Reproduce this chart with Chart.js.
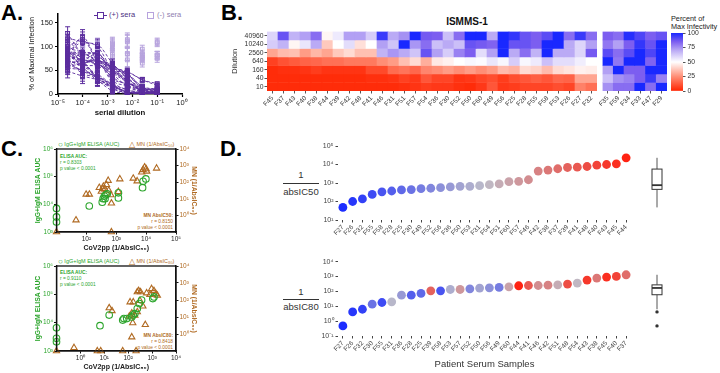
<!DOCTYPE html>
<html>
<head>
<meta charset="utf-8">
<script src="https://cdn.jsdelivr.net/npm/chart.js@4.4.1/dist/chart.umd.min.js"></script>
<style>
  body { margin: 0; width: 720px; height: 373px; position: relative; overflow: hidden; background: #fff;
         font-family: 'Liberation Sans', Arial, Helvetica, sans-serif; color: #222; }
  canvas { position: absolute; }
  .txt { position: absolute; white-space: nowrap; line-height: 1; }
  .letter { position: absolute; font-weight: bold; font-size: 22px; color: #000; line-height: 1; }
  .sym { display: inline-block; vertical-align: middle; position: relative; }
</style>
</head>
<body>

<!-- panel letters -->
<div class="letter" style="left:1px;top:2px">A.</div>
<div class="letter" style="left:221px;top:2px">B.</div>
<div class="letter" style="left:1px;top:138px">C.</div>
<div class="letter" style="left:220px;top:138px">D.</div>

<!-- A legend -->
<div class="txt" style="left:94px;top:11px;font-size:7.5px;color:#4b2f7f">
  <span class="sym" style="width:13px;height:8px">
    <span style="position:absolute;left:0;top:3.5px;width:13px;height:1.4px;background:#5b2d9e"></span>
    <span style="position:absolute;left:3px;top:0.5px;width:5px;height:5px;border:1.4px solid #5b2d9e;background:#fff"></span>
  </span> (+) sera
</div>
<div class="txt" style="left:147px;top:11px;font-size:7.5px;color:#8f80b0">
  <span class="sym" style="width:8px;height:8px">
    <span style="position:absolute;left:0;top:0.5px;width:5px;height:5px;border:1.4px solid #b7a3dd;background:#fff"></span>
  </span> (-) sera
</div>

<!-- B titles -->
<div class="txt" style="left:417px;top:17px;width:100px;text-align:center;font-size:10px;font-weight:bold;color:#111">ISMMS-1</div>
<div class="txt" style="left:671px;top:15px;font-size:7.3px;line-height:1.15;color:#222">Percent of<br>Max Infectivity</div>

<!-- C legends and stats -->
<div class="txt" style="left:58px;top:141px;font-size:5.5px;color:#2ca52c"><span style="font-size:8px;vertical-align:-1px">○</span> IgG+IgM ELISA (AUC)</div>
<div class="txt" style="left:129px;top:141px;font-size:5.5px;color:#b06a22"><span style="font-size:8px;vertical-align:-1px">△</span> MN (1/AbsIC₅₀)</div>
<div class="txt" style="left:60px;top:154px;font-size:4.8px;line-height:1.3;color:#2ca52c"><b>ELISA AUC:</b><br>r = 0.8303<br>p value &lt; 0.0001</div>
<div class="txt" style="left:132px;top:213px;width:41px;text-align:right;font-size:4.8px;line-height:1.3;color:#b06a22"><b>MN AbsIC50:</b><br>r = 0.8150<br>p value &lt; 0.0001</div>

<div class="txt" style="left:58px;top:258px;font-size:5.5px;color:#2ca52c"><span style="font-size:8px;vertical-align:-1px">○</span> IgG+IgM ELISA (AUC)</div>
<div class="txt" style="left:129px;top:258px;font-size:5.5px;color:#b06a22"><span style="font-size:8px;vertical-align:-1px">△</span> MN (1/AbsIC₈₀)</div>
<div class="txt" style="left:60px;top:270px;font-size:4.8px;line-height:1.3;color:#2ca52c"><b>ELISA AUC:</b><br>r = 0.9110<br>p value &lt; 0.0001</div>
<div class="txt" style="left:132px;top:333px;width:41px;text-align:right;font-size:4.8px;line-height:1.3;color:#b06a22"><b>MN AbsIC80:</b><br>r = 0.8418<br>p value &lt; 0.0001</div>

<!-- D fraction labels -->
<div class="txt" style="left:282px;top:170px;width:38px;text-align:center;font-size:9.5px;color:#333">1</div>
<div style="position:absolute;left:283px;top:183px;width:36px;height:1px;background:#333"></div>
<div class="txt" style="left:280px;top:187px;width:42px;text-align:center;font-size:9.5px;color:#333">absIC50</div>
<div class="txt" style="left:282px;top:287px;width:38px;text-align:center;font-size:9.5px;color:#333">1</div>
<div style="position:absolute;left:283px;top:299px;width:36px;height:1px;background:#333"></div>
<div class="txt" style="left:280px;top:302px;width:42px;text-align:center;font-size:9.5px;color:#333">absIC80</div>

<canvas id="chartA" width="162" height="111" style="left:28px;top:8px"></canvas>
<canvas id="heatPos" width="369" height="86" style="left:228px;top:27px"></canvas>
<canvas id="heatNeg" width="68" height="86" style="left:599px;top:27px"></canvas>
<canvas id="colorBar" width="40" height="70" style="left:668px;top:26px"></canvas>
<canvas id="c50" width="164" height="108" style="left:34px;top:146px"></canvas>
<canvas id="c80" width="164" height="110" style="left:34px;top:263px"></canvas>
<canvas id="d50" width="350" height="101" style="left:318px;top:141px"></canvas>
<canvas id="d80" width="350" height="117" style="left:318px;top:256px"></canvas>

<script>
// ===== DATA =====
// percent of maximal infectivity, one array per serum dilution (1:40960 ... 1:10)
const dilutions = [40960, 10240, 2560, 640, 160, 40, 10];
const posSamples = ['F45','F37','F43','F40','F38','F44','F39','F42','F48','F41','F46','F31','F51','F57','F54',
                    'F36','F30','F52','F50','F60','F49','F56','F25','F28','F55','F58','F53','F26','F27','F32'];
const negSamples = ['F35','F59','F34','F33','F47','F29'];

const pos40960 = [60, 88, 68, 72, 82, 48, 55, 72, 72, 62, 95, 70, 75, 105, 86, 85, 65, 82, 128, 112, 70, 118, 96, 88, 85, 90, 100, 82, 95, 82];
const pos10240 = [62, 68, 48, 56, 70, 38, 50, 58, 43, 50, 72, 64, 120, 74, 82, 65, 70, 65, 88, 86, 84, 110, 88, 88, 85, 108, 115, 70, 60, 72];
const pos2560  = [30, 35, 36, 28, 34, 30, 38, 42, 36, 36, 68, 74, 70, 64, 88, 72, 62, 78, 85, 58, 72, 100, 70, 82, 68, 104, 70, 70, 60, 86];
const pos640   = [7, 11, 13, 15, 16, 18, 18, 20, 20, 20, 25, 28, 36, 42, 32, 45, 47, 50, 52, 51, 56, 52, 62, 52, 55, 65, 58, 58, 54, 50];
const pos160   = [2, 3, 3, 4, 6, 4, 4, 4, 4, 9, 9, 17, 19, 16, 23, 25, 28, 25, 28, 25, 28, 35, 33, 42, 40, 35, 42, 44, 47, 46];
const pos40    = [2, 2, 2, 2, 2, 2, 2, 2, 2, 3, 3, 4, 7, 5, 12, 8, 8, 4, 5, 8, 10, 6, 10, 12, 14, 12, 16, 15, 30, 30];
const pos10    = [2, 2, 2, 2, 2, 2, 2, 2, 2, 2, 2, 2, 3, 4, 6, 5, 5, 3, 2, 5, 12, 5, 6, 8, 8, 8, 10, 8, 22, 18];

const neg40960 = [85, 82, 98, 92, 85, 88];
const neg10240 = [80, 72, 85, 96, 88, 104];
const neg2560  = [90, 82, 90, 106, 92, 108];
const neg640   = [104, 80, 102, 108, 84, 106];
const neg160   = [72, 115, 85, 85, 110, 112];
const neg40    = [65, 75, 78, 85, 95, 78];
const neg10    = [75, 82, 82, 110, 82, 108];

// error bar half-widths per dilution (panel A)
const posErr = [14, 16, 12, 10, 8, 5, 3];
const negErr = [10, 10, 10, 12, 14, 8, 8];
const aTicks = [0, 50, 100, 150];
const heatTicks = [0, 25, 50, 75, 100];

// panel C: CoV2pp 1/AbsIC50 vs ELISA AUC and MN 1/AbsIC50
const elisa50X = [10, 10, 10, 125, 340, 365, 400, 450, 500, 420, 1180, 1180, 7600, 7900, 9800];
const elisa50Y = [7100, 3500, 2300, 8700, 12000, 16000, 20000, 22000, 24000, 16000, 26000, 17000, 40000, 68000, 83000];
const mn50X = [10, 45, 98, 126, 270, 316, 355, 370, 417, 470, 537, 560, 660, 690, 690, 1175, 1320, 3700, 5000, 7100, 7900, 8900, 10000, 10500, 22400];
const mn50Y = [0.1, 0.52, 18.6, 18.6, 47, 28, 40, 56, 38, 71, 126, 32, 17, 5.4, 0.1, 27, 155, 170, 117, 400, 560, 800, 630, 450, 690];

// panel C: CoV2pp 1/AbsIC80
const elisa80X = [0.1, 0.1, 0.1, 6.6, 16, 59, 66, 87, 140, 163, 190, 240, 290, 363, 1070, 1200];
const elisa80Y = [6600, 2800, 2100, 7800, 18600, 12300, 14000, 14000, 16000, 18600, 21000, 31600, 47000, 63000, 71000, 81000];
const mn80X = [0.1, 0.54, 5.1, 7.1, 16, 21, 59, 214, 112, 141, 155, 141, 190, 240, 120, 163, 240, 275, 330, 310, 410, 590, 810, 950, 1200, 1450, 1660, 520];
const mn80Y = [0.1, 0.155, 0.1, 0.1, 34, 23, 0.1, 0.1, 11, 17, 4.5, 0.66, 12.6, 20, 76, 76, 295, 350, 295, 91, 43, 257, 204, 457, 350, 224, 186, 3.5];

// panel D
const ic50Samples = ['F27','F26','F32','F55','F58','F28','F25','F30','F49','F52','F56','F36','F50','F53','F31',
                     'F54','F51','F60','F57','F46','F42','F38','F37','F39','F41','F48','F40','F43','F45','F44'];
const ic50Values = [48, 100, 138, 240, 333, 370, 420, 440, 495, 520, 560, 610, 660, 660, 720,
                    810, 890, 1180, 1230, 1500, 4400, 5000, 5900, 6900, 7200, 7800, 9200, 10000, 10900, 23000];
const ic80Samples = ['F27','F26','F32','F30','F55','F31','F36','F28','F25','F39','F58','F53','F57','F52','F50',
                     'F56','F49','F60','F44','F41','F46','F42','F51','F48','F54','F43','F38','F45','F40','F37'];
const ic80Values = [0.48, 4.2, 6.3, 13.8, 18, 20, 56, 56, 73, 110, 110, 135, 135, 150, 167,
                    175, 185, 205, 240, 250, 250, 265, 280, 310, 365, 580, 790, 920, 1020, 1320];

// ===== HELPERS =====
Chart.defaults.font.family = "'Liberation Sans', Arial, Helvetica, sans-serif";
Chart.defaults.color = '#222';
Chart.defaults.animation = false;
Chart.defaults.responsive = false;
Chart.defaults.events = [];
Chart.defaults.plugins.legend.display = false;
Chart.defaults.plugins.tooltip.enabled = false;

const SUP = { '-': '⁻', '0': '⁰', '1': '¹', '2': '²', '3': '³', '4': '⁴', '5': '⁵', '6': '⁶', '7': '⁷', '8': '⁸', '9': '⁹' };
function pow10Label(v) {
    const e = Math.round(Math.log10(v));
    return '10' + String(e).split('').map(ch => SUP[ch]).join('');
}
function decades(lo, hi) {
    const out = [];
    for (let e = lo; e <= hi; e++) out.push({ value: Math.pow(10, e) });
    return out;
}
function fixW(w) { return s => { s.width = w; s.paddingTop = 0; s.paddingBottom = 0; }; }
function fixH(h) { return s => { s.height = h; s.paddingLeft = 0; s.paddingRight = 0; }; }
function rgb(c) { return `rgb(${c.map(Math.round).join(',')})`; }
function mix(a, b, t) { return a.map((v, i) => v + (b[i] - v) * t); }

const heatStops = [[0, [255, 35, 0]], [25, [255, 142, 118]], [50, [255, 255, 255]],
                   [70, [186, 170, 245]], [85, [124, 94, 240]], [100, [25, 40, 255]]];
function heatColor(v) {
    v = Math.max(0, Math.min(100, v));
    for (let i = 1; i < heatStops.length; i++) {
        const [p1, c1] = heatStops[i - 1], [p2, c2] = heatStops[i];
        if (v <= p2) return rgb(mix(c1, c2, (v - p1) / (p2 - p1)));
    }
}

// D colour: rank in the IC50 ordering, blue -> grey -> red
const BLUE = [28, 45, 255], GREY = [190, 188, 200], RED = [255, 35, 18];
const colorOf = {};
ic50Samples.forEach((s, i) => {
    const t = i / (ic50Samples.length - 1);
    colorOf[s] = rgb(t < 0.5 ? mix(BLUE, GREY, t * 2) : mix(GREY, RED, (t - 0.5) * 2));
});

// ===== PANEL A =====
const A_DARK = '#5b2d9e', A_LIGHT = '#b7a3dd';
const posRows = [pos40960, pos10240, pos2560, pos640, pos160, pos40, pos10];
const negRows = [neg40960, neg10240, neg2560, neg640, neg160, neg40, neg10];
const dilutionX = dilutions.map(d => 1 / d);

const aSets = [];
posSamples.forEach((s, k) => aSets.push({
    label: s, data: dilutionX.map((x, r) => ({ x, y: posRows[r][k] })), errs: posErr,
    borderColor: A_DARK, borderWidth: 0.9, borderDash: [3, 2], cubicInterpolationMode: 'monotone',
    pointStyle: 'rect', pointRadius: 2.6, pointBorderWidth: 1.1, pointBorderColor: A_DARK,
    pointBackgroundColor: 'rgba(255,255,255,0)', order: 1
}));
negSamples.forEach((s, k) => aSets.push({
    label: s, data: dilutionX.map((x, r) => ({ x, y: negRows[r][k] })), errs: negErr,
    borderColor: A_LIGHT, showLine: false,
    pointStyle: 'rect', pointRadius: 2.6, pointBorderWidth: 1.1, pointBorderColor: A_LIGHT,
    pointBackgroundColor: 'rgba(255,255,255,0)', order: 2
}));

const errorBars = {
    id: 'errorBars',
    beforeDatasetsDraw(chart) {
        const ys = chart.scales.y, ctx = chart.ctx;
        const idx = chart.data.datasets.map((d, i) => i).sort((a, b) => chart.data.datasets[b].order - chart.data.datasets[a].order);
        ctx.save();
        idx.forEach(i => {
            const ds = chart.data.datasets[i];
            ctx.strokeStyle = ds.pointBorderColor;
            ctx.lineWidth = 1;
            chart.getDatasetMeta(i).data.forEach((pt, j) => {
                const v = ds.data[j].y, e = ds.errs[j];
                const y1 = ys.getPixelForValue(v + e), y2 = ys.getPixelForValue(Math.max(0, v - e));
                ctx.beginPath();
                ctx.moveTo(pt.x, y1); ctx.lineTo(pt.x, y2);
                ctx.moveTo(pt.x - 2.5, y1); ctx.lineTo(pt.x + 2.5, y1);
                ctx.moveTo(pt.x - 2.5, y2); ctx.lineTo(pt.x + 2.5, y2);
                ctx.stroke();
            });
        });
        ctx.restore();
    }
};

new Chart(document.getElementById('chartA'), {
    type: 'line',
    data: { datasets: aSets },
    options: {
        layout: { autoPadding: false, padding: { top: 5.5, right: 8 } },
        scales: {
            x: {
                type: 'logarithmic', min: 1e-5, max: 1,
                afterBuildTicks: s => { s.ticks = decades(-5, 0); },
                afterFit: fixH(25),
                ticks: { callback: v => pow10Label(v), font: { size: 7.5 }, padding: 1, color: '#222', maxRotation: 0 },
                grid: { drawOnChartArea: false, tickLength: 3, color: '#000', tickWidth: 1.2 },
                border: { color: '#000', width: 1.5 },
                title: { display: true, text: 'serial dilution', font: { size: 7.8, weight: 'bold' }, color: '#111', padding: { top: 1, bottom: 1 } }
            },
            y: {
                min: 0, max: 170,
                afterBuildTicks: s => { s.ticks = aTicks.map(v => ({ value: v })); },
                afterFit: fixW(30),
                ticks: { font: { size: 7.5 }, padding: 2, color: '#222' },
                grid: { drawOnChartArea: false, tickLength: 3, color: '#000', tickWidth: 1.2 },
                border: { color: '#000', width: 1.5 },
                title: { display: true, text: '% of Maximal Infection', font: { size: 7.3 }, color: '#111', padding: { top: 0, bottom: 1 } }
            }
        }
    },
    plugins: [errorBars]
});

// ===== PANEL B: heatmaps =====
function heatDatasets(rows, samples) {
    return rows.map((row, r) => ({
        label: String(dilutions[r]),
        data: samples.map(() => [dilutions.length - 1 - r, dilutions.length - r]),
        backgroundColor: row.map(heatColor),
        borderWidth: 0, grouped: false,
        barPercentage: 1, categoryPercentage: 1
    }));
}
function heatOptions(yWidth, showY) {
    return {
        layout: { autoPadding: false, padding: { top: 4.5 } },
        scales: {
            x: {
                afterFit: fixH(22),
                ticks: { autoSkip: false, minRotation: 45, maxRotation: 45, font: { size: 6.5 }, padding: 1, color: '#333' },
                grid: { drawOnChartArea: false, offset: false, tickLength: 2.5, color: '#555' },
                border: { display: false }
            },
            y: {
                min: 0, max: dilutions.length,
                afterBuildTicks: s => { s.ticks = dilutions.map((d, r) => ({ value: dilutions.length - 0.5 - r })); },
                afterFit: fixW(yWidth),
                ticks: { display: showY, autoSkip: false, callback: v => dilutions[Math.round(dilutions.length - 0.5 - v)], font: { size: 6.8 }, padding: 1, color: '#333' },
                grid: { drawOnChartArea: false, drawTicks: showY, tickLength: 2.5, color: '#555' },
                border: { display: false },
                title: { display: showY, text: 'Dilution', font: { size: 7.5 }, color: '#333', padding: { top: 2, bottom: 1 } }
            }
        }
    };
}
new Chart(document.getElementById('heatPos'), {
    type: 'bar',
    data: { labels: posSamples, datasets: heatDatasets(posRows, posSamples) },
    options: heatOptions(39, true)
});
new Chart(document.getElementById('heatNeg'), {
    type: 'bar',
    data: { labels: negSamples, datasets: heatDatasets(negRows, negSamples) },
    options: heatOptions(3.5, false)
});

new Chart(document.getElementById('colorBar'), {
    type: 'bar',
    data: {
        labels: [''],
        datasets: [{
            data: [[heatTicks[0], heatTicks[heatTicks.length - 1]]],
            barPercentage: 1, categoryPercentage: 1, borderWidth: 0,
            backgroundColor: ctx => {
                const ca = ctx.chart.chartArea;
                if (!ca) return '#fff';
                const g = ctx.chart.ctx.createLinearGradient(0, ca.bottom, 0, ca.top);
                heatStops.forEach(([p, c]) => g.addColorStop(p / 100, rgb(c)));
                return g;
            }
        }]
    },
    options: {
        layout: { autoPadding: false, padding: { left: 3, top: 7, bottom: 5 } },
        scales: {
            x: { display: false },
            y: {
                position: 'right', min: 0, max: 100,
                afterBuildTicks: s => { s.ticks = heatTicks.map(v => ({ value: v })); },
                afterFit: fixW(25),
                ticks: { font: { size: 6.8 }, padding: 2, color: '#333', autoSkip: false },
                grid: { drawOnChartArea: false, tickLength: 2.5, color: '#555' },
                border: { display: false }
            }
        }
    }
});

// ===== PANEL C =====
const C_GREEN = '#2ca52c', C_BROWN = '#b06a22';
const framePlugin = {
    id: 'frame',
    afterDraw(chart) {
        const { left, top, right, bottom } = chart.chartArea, c = chart.ctx;
        c.save(); c.strokeStyle = '#111'; c.lineWidth = 1.3;
        c.strokeRect(left, top, right - left, bottom - top);
        c.restore();
    }
};
function scatterC(id, gx, gy, bx, by, xLo, xHi, xLabelLo, xTitle, y2Title) {
    new Chart(document.getElementById(id), {
        type: 'scatter',
        data: {
            datasets: [
                { data: gx.map((x, i) => ({ x, y: gy[i] })), yAxisID: 'y', pointStyle: 'circle', pointRadius: 3.3,
                  borderColor: C_GREEN, backgroundColor: 'rgba(0,0,0,0)', borderWidth: 1.1, clip: false },
                { data: bx.map((x, i) => ({ x, y: by[i] })), yAxisID: 'y2', pointStyle: 'triangle', pointRadius: 3.6,
                  borderColor: C_BROWN, backgroundColor: 'rgba(0,0,0,0)', borderWidth: 1.1, clip: false }
            ]
        },
        options: {
            layout: { autoPadding: false, padding: { top: 3 } },
            scales: {
                x: {
                    type: 'logarithmic', min: Math.pow(10, xLo), max: Math.pow(10, xHi),
                    afterBuildTicks: s => { s.ticks = decades(xLabelLo, xHi); },
                    afterFit: fixH(22),
                    ticks: { callback: v => pow10Label(v), font: { size: 6.5 }, padding: 1, color: '#222', maxRotation: 0, autoSkip: false },
                    grid: { drawOnChartArea: false, tickLength: 2.5, color: '#111' },
                    border: { color: '#111', width: 1.3 },
                    title: { display: true, text: xTitle, font: { size: 7, weight: 'bold' }, color: '#222', padding: { top: 1, bottom: 2 } }
                },
                y: {
                    type: 'logarithmic', min: 1e3, max: 1e6, position: 'left',
                    afterBuildTicks: s => { s.ticks = decades(3, 6); },
                    afterFit: fixW(22.5),
                    ticks: { callback: v => pow10Label(v), font: { size: 6.5 }, padding: 1, color: C_GREEN, autoSkip: false },
                    grid: { drawOnChartArea: false, tickLength: 2.5, color: '#111' },
                    border: { color: '#111', width: 1.3 },
                    title: { display: true, text: 'IgG+IgM ELISA AUC', font: { size: 6.8, weight: 'bold' }, color: C_GREEN, padding: { top: 0, bottom: 1 } }
                },
                y2: {
                    type: 'logarithmic', min: 0.1, max: 1e4, position: 'right',
                    afterBuildTicks: s => { s.ticks = decades(0, 4); },
                    afterFit: fixW(22),
                    ticks: { callback: v => pow10Label(v), font: { size: 6.5 }, padding: 1, color: C_BROWN, autoSkip: false },
                    grid: { drawOnChartArea: false, tickLength: 2.5, color: '#111' },
                    border: { color: '#111', width: 1.3 },
                    title: { display: true, text: y2Title, font: { size: 6.8, weight: 'bold' }, color: C_BROWN, padding: { top: 0, bottom: 1 } }
                }
            }
        },
        plugins: [framePlugin]
    });
}
scatterC('c50', elisa50X, elisa50Y, mn50X, mn50Y, 1, 5, 2, 'CoV2pp (1/AbsIC₅₀)', 'MN (1/AbsIC₅₀)');
scatterC('c80', elisa80X, elisa80Y, mn80X, mn80Y, -1, 4, 0, 'CoV2pp (1/AbsIC₈₀)', 'MN (1/AbsIC₈₀)');

// ===== PANEL D =====
const sideBox = {
    id: 'sideBox',
    afterDraw(chart, args, opts) {
        const ys = chart.scales.y, ctx = chart.ctx;
        const logs = chart.data.datasets[0].data.map(v => Math.log10(v)).sort((a, b) => a - b);
        const q = p => {
            const pos = p * (logs.length - 1), i = Math.floor(pos), f = pos - i;
            return logs[i] + (logs[Math.min(i + 1, logs.length - 1)] - logs[i]) * f;
        };
        const q1 = q(0.25), q2 = q(0.5), q3 = q(0.75), iqr = q3 - q1;
        const inFence = v => v >= q1 - 1.5 * iqr && v <= q3 + 1.5 * iqr;
        const inside = logs.filter(inFence);
        const lo = Math.min(...inside), hi = Math.max(...inside);
        const py = v => ys.getPixelForValue(Math.pow(10, v));
        const x = opts.x, hw = opts.half;
        ctx.save();
        ctx.strokeStyle = '#555'; ctx.lineWidth = 1;
        ctx.beginPath();
        ctx.moveTo(x, py(hi)); ctx.lineTo(x, py(q3));
        ctx.moveTo(x, py(q1)); ctx.lineTo(x, py(lo));
        ctx.stroke();
        ctx.fillStyle = '#fff'; ctx.strokeStyle = '#333';
        ctx.fillRect(x - hw, py(q3), hw * 2, py(q1) - py(q3));
        ctx.strokeRect(x - hw, py(q3), hw * 2, py(q1) - py(q3));
        ctx.lineWidth = 1.8;
        ctx.beginPath(); ctx.moveTo(x - hw, py(q2)); ctx.lineTo(x + hw, py(q2)); ctx.stroke();
        ctx.fillStyle = '#333';
        logs.filter(v => !inFence(v)).forEach(v => { ctx.beginPath(); ctx.arc(x, py(v), 1.7, 0, Math.PI * 2); ctx.fill(); });
        ctx.restore();
    }
};
function dotChart(id, samples, values, yLo, yHi, padTop, xHeight, xTitle) {
    new Chart(document.getElementById(id), {
        type: 'line',
        data: {
            labels: samples,
            datasets: [{
                data: values, showLine: false, pointRadius: 4.4, pointBorderWidth: 0,
                pointBackgroundColor: samples.map(s => colorOf[s]), pointBorderColor: samples.map(s => colorOf[s]), clip: false
            }]
        },
        options: {
            layout: { autoPadding: false, padding: { top: padTop, right: 37 } },
            plugins: { sideBox: { x: 339, half: 5 } },
            scales: {
                x: {
                    offset: true,
                    afterFit: fixH(xHeight),
                    ticks: { autoSkip: false, minRotation: 45, maxRotation: 45, font: { size: 6.5 }, padding: 1, color: '#444' },
                    grid: { drawOnChartArea: false, offset: false, tickLength: 2.5, color: '#444' },
                    border: { display: false },
                    title: { display: !!xTitle, text: xTitle, font: { size: 9.5 }, color: '#333', padding: { top: 0, bottom: 3 } }
                },
                y: {
                    type: 'logarithmic', min: Math.pow(10, yLo), max: Math.pow(10, yHi),
                    afterBuildTicks: s => { s.ticks = decades(yLo, yHi); },
                    afterFit: fixW(20),
                    ticks: { callback: v => pow10Label(v), font: { size: 7 }, padding: 2, color: '#444', autoSkip: false },
                    grid: { drawOnChartArea: false, tickLength: 2.5, color: '#444' },
                    border: { display: false }
                }
            }
        },
        plugins: [sideBox]
    });
}
dotChart('d50', ic50Samples, ic50Values, 1, 5, 5, 22, '');
dotChart('d80', ic80Samples, ic80Values, -1, 4, 5.7, 37, 'Patient Serum Samples');
</script>
</body>
</html>
